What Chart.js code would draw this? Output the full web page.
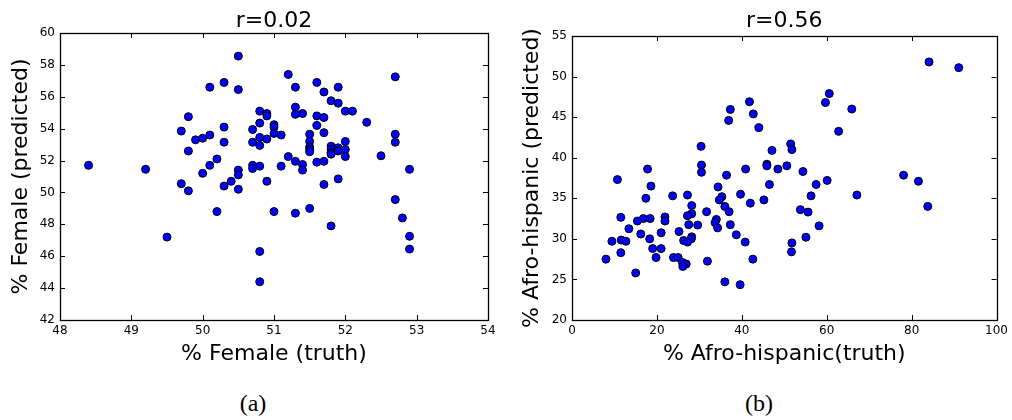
<!DOCTYPE html>
<html>
<head>
<meta charset="utf-8">
<script src="https://cdn.jsdelivr.net/npm/chart.js@4.4.1/dist/chart.umd.min.js"></script>
<style>
  body { margin: 0; background: #fff; }
  #wrap { position: relative; width: 1012px; height: 420px; overflow: hidden; }
  canvas { position: absolute; top: 0; }
  #leftChart { left: 0; }
  #rightChart { left: 506px; }
  .caption { position: absolute; top: 390px; width: 506px; text-align: center;
             font-family: 'Liberation Serif', 'DejaVu Serif', serif; font-size: 24px; color: #000; }
</style>
</head>
<body>
<div id="wrap">
  <canvas id="leftChart" width="506" height="375"></canvas>
  <canvas id="rightChart" width="506" height="375"></canvas>
  <div class="caption" style="left:0">(a)</div>
  <div class="caption" style="left:506px">(b)</div>
</div>
<script>
// % Female: truth vs predicted
const femaleTruth = [48.4, 49.2, 49.5, 49.7, 49.7, 49.8, 49.8, 49.8, 49.9, 50.0, 50.0, 50.1, 50.1, 50.1,
    50.2, 50.2, 50.3, 50.3, 50.3, 50.3, 50.4, 50.5, 50.5, 50.5, 50.5, 50.5, 50.7, 50.7, 50.7, 50.7,
    50.8, 50.8, 50.8, 50.8, 50.8, 50.8, 50.8, 50.9, 50.9, 50.9, 50.9, 51.0, 51.0, 51.0, 51.0, 51.1,
    51.1, 51.2, 51.2, 51.3, 51.3, 51.3, 51.3, 51.3, 51.4, 51.4, 51.4, 51.5, 51.5, 51.5, 51.5, 51.5,
    51.5, 51.6, 51.6, 51.6, 51.6, 51.7, 51.7, 51.7, 51.7, 51.7, 51.8, 51.8, 51.8, 51.8, 51.8, 51.8,
    51.9, 51.9, 51.9, 51.9, 51.9, 52.0, 52.0, 52.0, 52.0, 52.1, 52.3, 52.5, 52.7, 52.7, 52.7, 52.7,
    52.8, 52.9, 52.9, 52.9];
const femalePred = [51.7, 51.45, 47.2, 50.55, 53.85, 52.6, 54.75, 50.1, 53.3, 53.4, 51.2, 56.6, 53.6, 51.7,
    52.1, 48.8, 56.9, 54.1, 53.15, 50.4, 50.7, 58.55, 56.45, 51.4, 51.1, 50.2, 53.95, 53.15, 51.7, 51.5,
    55.1, 54.35, 53.45, 52.95, 51.65, 46.3, 44.4, 54.95, 54.8, 53.35, 50.7, 54.25, 54.1, 53.7, 48.8, 53.6,
    51.65, 57.4, 52.25, 56.6, 55.35, 54.9, 51.95, 48.7, 54.95, 51.75, 51.4, 53.65, 53.2, 52.85, 52.7, 52.55,
    49.0, 56.9, 54.8, 54.2, 51.9, 56.3, 54.7, 53.75, 51.95, 50.5, 55.75, 52.9, 52.7, 52.5, 52.4, 47.9,
    56.6, 55.6, 52.8, 52.6, 50.85, 55.1, 53.2, 52.7, 52.25, 55.1, 54.4, 52.3, 57.25, 53.65, 53.15, 49.55,
    48.4, 51.45, 47.25, 46.45];

// % Afro-hispanic: truth vs predicted
const afroTruth = [84.1, 91.1, 60.6, 59.7, 65.9, 41.8, 37.3, 42.7, 36.9, 44.0, 62.8, 30.4, 51.5, 51.8,
    47.1, 30.5, 30.5, 45.9, 45.9, 50.6, 48.5, 17.8, 40.9, 54.4, 78.1, 81.6, 36.4, 10.7, 60.1, 57.5,
    46.5, 34.4, 18.6, 39.7, 35.3, 27.2, 23.7, 56.3, 67.1, 17.4, 34.7, 45.2, 83.8, 42.0, 28.2, 36.0,
    53.8, 37.0, 31.7, 55.6, 28.2, 27.2, 11.5, 34.0, 21.9, 16.8, 18.4, 21.9, 15.4, 27.5, 29.6, 33.7,
    34.3, 37.3, 58.2, 13.4, 25.2, 21.0, 16.2, 38.7, 28.2, 18.3, 55.1, 28.1, 11.6, 9.4, 12.7, 26.3,
    27.2, 40.8, 51.8, 19.0, 21.0, 11.5, 51.7, 8.0, 19.8, 23.9, 25.0, 42.6, 31.9, 26.0, 26.9, 26.1,
    15.0, 36.0, 39.6];
const afroPred = [51.8, 51.1, 47.9, 46.8, 46.0, 46.9, 45.95, 45.4, 44.6, 43.7, 43.25, 41.4, 41.7, 41.0,
    40.9, 39.1, 38.2, 39.2, 39.0, 39.0, 38.6, 38.6, 38.6, 38.3, 37.85, 37.1, 37.85, 37.3, 37.2, 36.7,
    36.7, 36.4, 36.5, 35.5, 35.2, 35.4, 35.3, 35.3, 35.4, 35.0, 34.8, 34.8, 34.0, 34.4, 34.1, 34.0,
    33.6, 33.35, 33.35, 33.3, 33.1, 32.85, 32.65, 32.4, 32.7, 32.5, 32.5, 32.2, 32.2, 31.75, 31.7, 32.0,
    31.35, 31.75, 31.6, 31.25, 30.9, 30.75, 30.6, 30.5, 30.25, 30.0, 30.2, 30.0, 29.85, 29.7, 29.7, 29.8,
    29.6, 29.6, 29.5, 28.8, 28.8, 28.3, 28.4, 27.5, 27.7, 27.7, 27.7, 27.5, 27.25, 27.1, 26.9, 26.6,
    25.8, 24.7, 24.35];

// Axis limits / tick steps
const femaleX = { min: 48, max: 54, step: 1 };
const femaleY = { min: 42, max: 60, step: 2 };
const afroX = { min: 0, max: 100, step: 20 };
const afroY = { min: 20, max: 55, step: 5 };

const sans = "'DejaVu Sans', sans-serif";

// Box round the plot with inward tick marks on all four sides
const framePlugin = {
    id: 'frame',
    beforeDatasetsDraw(chart) {
        const { ctx, chartArea: a, scales: { x, y } } = chart;
        ctx.save();
        ctx.strokeStyle = '#000';
        ctx.lineWidth = 1;
        ctx.beginPath();
        x.ticks.forEach((t, i) => {
            const px = Math.round(x.getPixelForTick(i)) + 0.5;
            ctx.moveTo(px, a.bottom); ctx.lineTo(px, a.bottom - 5);
            ctx.moveTo(px, a.top); ctx.lineTo(px, a.top + 5);
        });
        y.ticks.forEach((t, i) => {
            const py = Math.round(y.getPixelForTick(i)) + 0.5;
            ctx.moveTo(a.left, py); ctx.lineTo(a.left + 5, py);
            ctx.moveTo(a.right, py); ctx.lineTo(a.right - 5, py);
        });
        ctx.stroke();
        ctx.lineWidth = 1.3;
        ctx.strokeRect(Math.round(a.left) + 0.5, Math.round(a.top) + 0.5,
            Math.round(a.width), Math.round(a.height));
        ctx.restore();
    }
};

function makeScatter(id, xs, ys, xLim, yLim, opts) {
    const points = xs.map((v, i) => ({ x: v, y: ys[i] }));
    return new Chart(document.getElementById(id), {
        type: 'scatter',
        data: {
            datasets: [{
                data: points,
                backgroundColor: '#0000ff',
                borderColor: '#000000',
                borderWidth: 1,
                pointRadius: 4,
                pointHoverRadius: 4
            }]
        },
        options: {
            responsive: false,
            animation: false,
            events: [],
            layout: { padding: { left: 0, right: opts.padRight, top: 0, bottom: 0 } },
            plugins: {
                legend: { display: false },
                tooltip: { enabled: false },
                title: {
                    display: true,
                    text: opts.title,
                    fullSize: false,
                    color: '#000',
                    font: { family: sans, size: 22, weight: 'normal', lineHeight: 1 },
                    padding: { top: 10, bottom: opts.titleBottom }
                }
            },
            scales: {
                x: {
                    type: 'linear',
                    min: xLim.min, max: xLim.max,
                    grid: { display: false, drawTicks: false },
                    border: { display: false },
                    ticks: { stepSize: xLim.step, padding: 4, color: '#000', font: { family: sans, size: 12 } },
                    title: {
                        display: true, text: opts.xTitle, color: '#000',
                        font: { family: sans, size: 22 }, padding: { top: 0, bottom: 8 }
                    },
                    afterFit: s => { s.height = 55; }
                },
                y: {
                    type: 'linear',
                    min: yLim.min, max: yLim.max,
                    grid: { display: false, drawTicks: false },
                    border: { display: false },
                    ticks: { stepSize: yLim.step, padding: 5, color: '#000', font: { family: sans, size: 12 } },
                    title: {
                        display: true, text: opts.yTitle, color: '#000',
                        font: { family: sans, size: 22 }, padding: { top: opts.yTitlePad, bottom: 0 }
                    },
                    afterFit: s => { s.width = opts.yWidth; }
                }
            }
        },
        plugins: [framePlugin]
    });
}

makeScatter('leftChart', femaleTruth, femalePred, femaleX, femaleY, {
    title: 'r=0.02', xTitle: '% Female (truth)', yTitle: '% Female (predicted)',
    yWidth: 60, yTitlePad: 8, padRight: 18, titleBottom: 1
});

makeScatter('rightChart', afroTruth, afroPred, afroX, afroY, {
    title: 'r=0.56', xTitle: '% Afro-hispanic(truth)', yTitle: '% Afro-hispanic (predicted)',
    yWidth: 66, yTitlePad: 13, padRight: 14, titleBottom: 4
});
</script>
</body>
</html>
